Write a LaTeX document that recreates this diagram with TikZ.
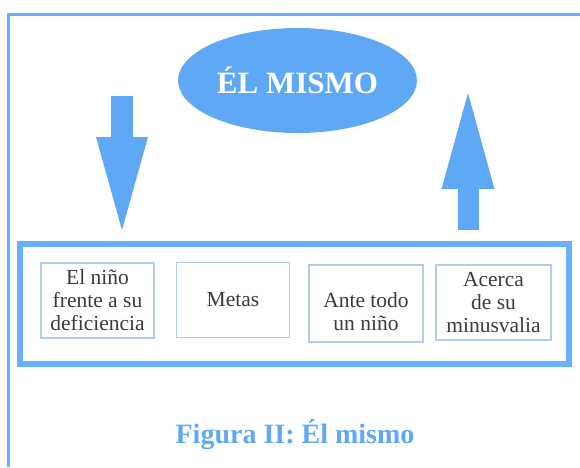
\documentclass[tikz,border=0pt]{standalone}
\usepackage{fontspec}
\setmainfont{Liberation Serif}
\usetikzlibrary{arrows.meta, shapes.geometric, positioning}
\definecolor{selfblue}{HTML}{5FA8F6}
\definecolor{framblue}{HTML}{66B0FF}
\definecolor{boxblue}{HTML}{A9CDF3}
\definecolor{inkgray}{HTML}{3A3A3A}
\tikzset{
	itembox/.style={draw=boxblue, line width=1.5pt, minimum width=113pt, minimum height=75pt,
		inner sep=0pt, align=center, text=inkgray, font=\fontsize{21.5}{23}\selectfont},
	bigarrow/.style={selfblue, line width=#1}
}
\begin{document}
\begin{tikzpicture}[x=1pt,y=-1pt,>={Triangle}]
	\useasboundingbox (0,0) rectangle (580,467);

	\draw[framblue, line width=3pt] (8,467) -- (8,14) -- (580,14);

	\node[ellipse, fill=selfblue, minimum width=239pt, minimum height=105pt, inner sep=0pt,
		text=white, font=\fontsize{31}{34}\selectfont\bfseries] (self) at (297.5,80.5) {ÉL MISMO};

	\node[draw=framblue, line width=6pt, minimum width=549pt, minimum height=120pt] (panel) at (294.5,304) {};

	\node[itembox] (defic) at (97.5,300.5)	{El niño\\frente a su\\deficiencia};
	\node[itembox] (metas) at (233,300)		{Metas};
	\node[itembox, minimum width=114pt, minimum height=77pt] (nino) at (366,303.5)	{\mbox{}\\[9pt]Ante todo\\un niño};
	\node[itembox, minimum width=115pt] (minus) at (493.5,302.5)	{Acerca\\de su\\minusvalia};

	\coordinate (dtop) at (122,96);
	\coordinate (dtip) at (122,230);
	\coordinate (ubot) at (468,230);
	\coordinate (utip) at (468,93);

	\draw[bigarrow=22pt, -{Triangle[length=93pt,width=52pt,line width=0pt]}] (dtop) -- (dtip);
	\draw[bigarrow=21pt, -{Triangle[length=96pt,width=53pt,line width=0pt]}] (ubot) -- (utip);

	\node[text=selfblue, font=\fontsize{28}{30}\selectfont\bfseries] (caption) at (295,435) {Figura II: Él mismo};
\end{tikzpicture}
\end{document}
